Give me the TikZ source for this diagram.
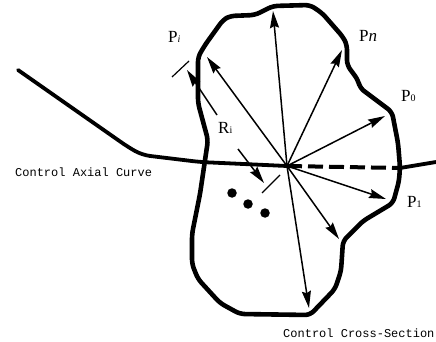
\documentclass[tikz,border=0pt]{standalone}
\usepackage{fontspec}
\setmainfont{Liberation Serif}
\setmonofont{Liberation Mono}
\usepackage{tikz}
\usetikzlibrary{arrows.meta, positioning}

\begin{document}
\begin{tikzpicture}[
    x=1pt, y=-1pt,
    outline/.style={line width=4.6pt, line join=round, rounded corners=5pt},
    axisline/.style={line width=3.8pt, line join=round, line cap=round, rounded corners=8pt},
    ray/.style={-{Stealth[length=17pt, width=9pt, inset=2pt]}, line width=1.5pt},
    tickline/.style={line width=1.2pt},
    dot/.style={circle, fill=black, inner sep=0pt, minimum size=9.5pt},
    lab/.style={anchor=base west, inner sep=0pt, font=\fontsize{17}{17}\selectfont},
    captxt/.style={anchor=base west, inner sep=0pt, font=\ttfamily\fontsize{12}{12}\selectfont}
]
    \useasboundingbox (0,0) rectangle (436,342);

    % section boundary
    \draw[outline] (255,15) -- (273,6) -- (310,5) -- (322,13) -- (343,37) -- (347,45)
        -- (347,65) -- (358,80) -- (360,88) -- (392,112) -- (398,143) -- (400,167)
        -- (399,181) -- (393,203) -- (363,221) -- (343,241) -- (341,271) -- (335,289)
        -- (310,315) -- (240,314) -- (220,303) -- (198,279) -- (192,264) -- (192,234)
        -- (200,194) -- (208,140) -- (198,103) -- (198,57) -- (205,45) -- (223,20)
        -- (230,16) -- cycle;

    \coordinate (cen) at (287,166);
    \coordinate (axl) at (18,70);
    \coordinate (axr) at (436,162);
    \coordinate (axm) at (400,168);

    % axial curve
    \draw[axisline] (axl) -- (128,147) -- (142,155) -- (200,162) -- (cen);
    \draw[line width=4pt, dash pattern=on 15pt off 6pt] (cen) -- (axm);
    \draw[line width=3.8pt] (axm) -- (axr);

    % radial vectors
    \coordinate (t1) at (273,11);
    \coordinate (t2) at (342,50);
    \coordinate (t3) at (385,116);
    \coordinate (t4) at (207,57);
    \coordinate (t5) at (386,199);
    \coordinate (t6) at (339,239);
    \coordinate (t7) at (309,308);
    \draw[ray] (cen) -- (t1);
    \draw[ray] (cen) -- (t2);
    \draw[ray] (cen) -- (t3);
    \draw[ray] (cen) -- (t4);
    \draw[ray] (cen) -- (t5);
    \draw[ray] (cen) -- (t6);
    \draw[ray] (cen) -- (t7);

    % R_i dimension
    \coordinate (ra) at (217,115);
    \coordinate (rb) at (187,70);
    \coordinate (rc) at (238,149);
    \coordinate (rd) at (264,183);
    \draw[ray] (ra) -- (rb);
    \draw[ray] (rc) -- (rd);
    \coordinate (k1) at (172,77);
    \coordinate (k2) at (189,61);
    \coordinate (k3) at (262,193);
    \coordinate (k4) at (280,175);
    \draw[tickline] (k1) -- (k2);
    \draw[tickline] (k3) -- (k4);

    \node[dot] (d1) at (232,193) {};
    \node[dot] (d2) at (248,204) {};
    \node[dot] (d3) at (265,213) {};

    \node[lab] (pi) at (168,43)  {P{\fontsize{10}{10}\selectfont\itshape i}};
    \node[lab] (pn) at (359,42)  {P\textit{n}};
    \node[lab] (p0) at (401,102) {P{\fontsize{10}{10}\selectfont 0}};
    \node[lab] (ri) at (218,133) {R{\fontsize{10}{10}\selectfont i}};
    \node[lab] (p1) at (407,207) {P{\fontsize{10}{10}\selectfont 1}};
    \node[captxt] (ac) at (15,176)  {Control Axial Curve};
    \node[captxt] (cs) at (283,337) {Control Cross-Section};
\end{tikzpicture}
\end{document}
